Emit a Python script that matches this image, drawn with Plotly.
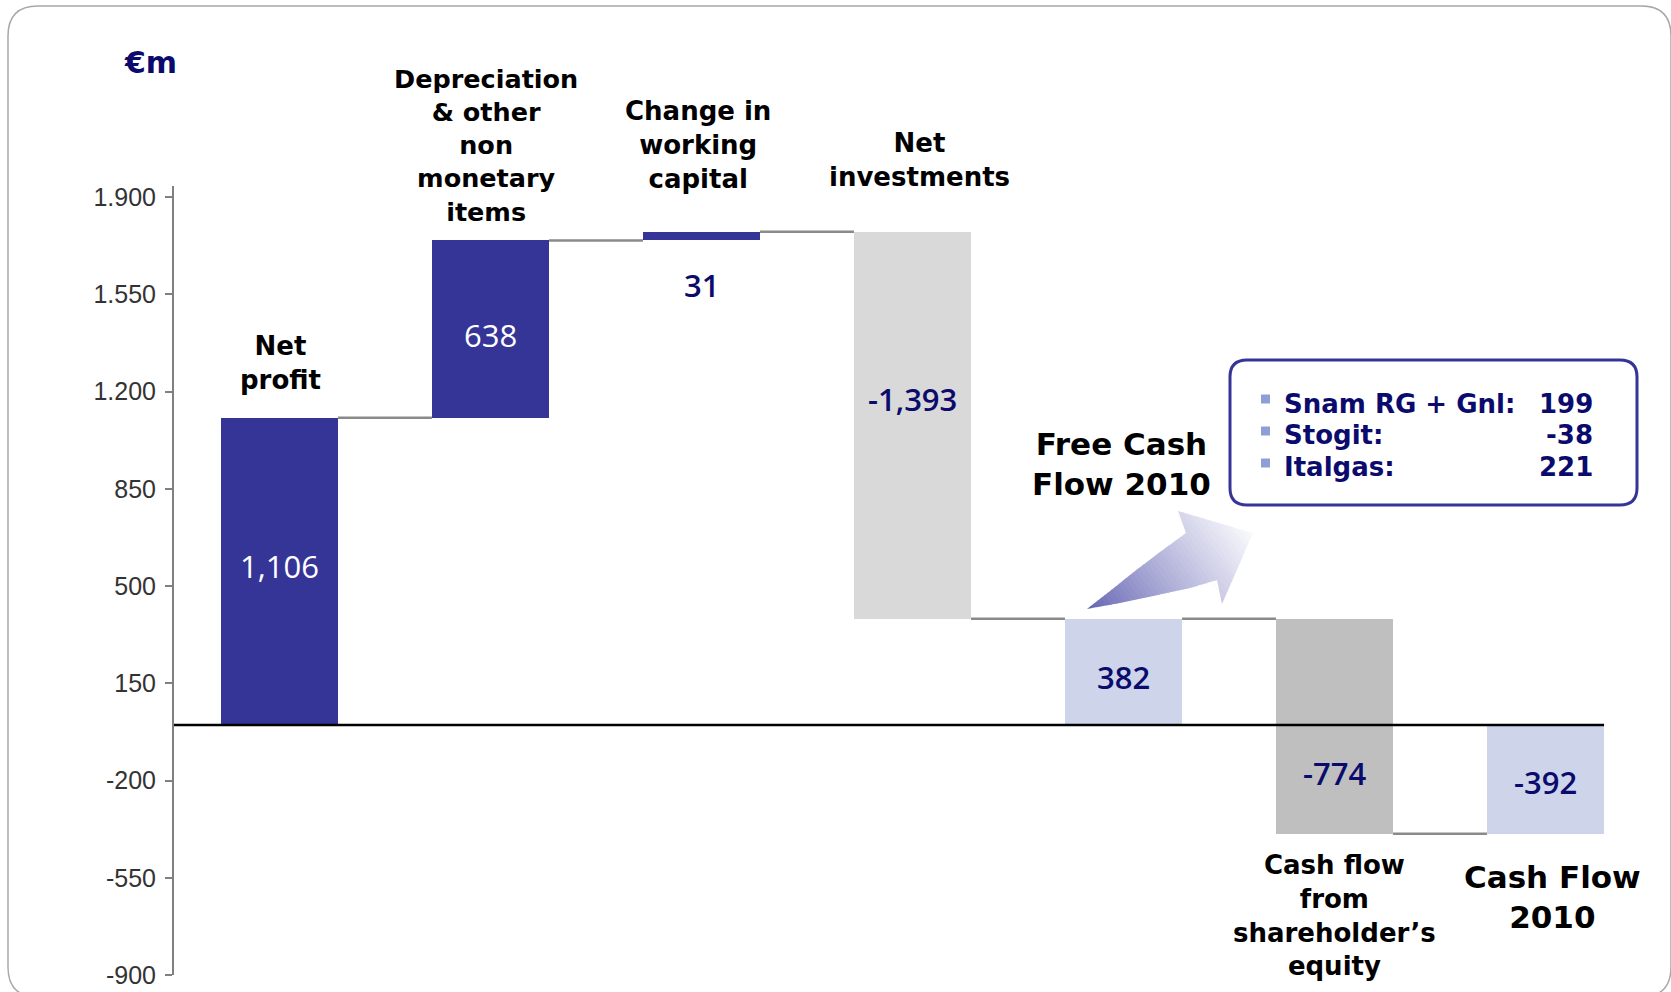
import plotly.graph_objects as go

# ---- data -------------------------------------------------------------
categories = [
    "Net<br>profit",
    "Depreciation<br>& other<br>non<br>monetary<br>items",
    "Change in<br>working<br>capital",
    "Net<br>investments",
    "Free Cash<br>Flow 2010",
    "Cash flow<br>from<br>shareholder’s<br>equity",
    "Cash Flow<br>2010",
]
values = [1106, 638, 31, -1393, 382, -774, -392]
measures = ["relative", "relative", "relative", "relative", "total", "relative", "total"]

y_ticks = [1900, 1550, 1200, 850, 500, 150, -200, -550, -900]
y_tick_labels = ["1.900", "1.550", "1.200", "850", "500", "150", "-200", "-550", "-900"]

segments = ["Snam RG + Gnl:", "Stogit:", "Italgas:"]
segment_values = [199, -38, 221]

# ---- styling ----------------------------------------------------------
NAVY = "#0B0B6E"
DARK = "#353597"
bar_colors = [DARK, DARK, DARK, "#D9D9D9", "#CED5EA", "#BFBFBF", "#CED5EA"]
value_colors = ["white", "white", NAVY, NAVY, NAVY, NAVY, NAVY]
value_weights = [400, 400, 600, 600, 600, 600, 600]
value_shift = [5, -6, -45, 26, -5, -47, -3]
BAR_W = 0.555

W, H = 1671, 992
ML, MR, MT, MB = 174, 20, 186, 17
PW, PH = W - ML - MR, H - MT - MB


def px(x):
    return (x - ML) / PW


def py(y):
    return (H - MB - y) / PH


# ---- waterfall geometry from the values ------------------------------
bases, heights = [], []
running = 0
for v, m in zip(values, measures):
    if m == "total":
        bases.append(0)
        heights.append(v)
        running = v
    else:
        bases.append(running)
        heights.append(v)
        running += v
ends = [b + h for b, h in zip(bases, heights)]
xs = list(range(len(values)))

fig = go.Figure()
fig.add_trace(go.Bar(
    x=xs, y=heights, base=bases, width=BAR_W,
    marker=dict(color=bar_colors, line=dict(width=0)),
    hoverinfo="skip", showlegend=False,
))

# connectors between consecutive bars
cx, cy = [], []
for i in range(len(values) - 1):
    cx += [i + BAR_W / 2, i + 1 - BAR_W / 2, None]
    cy += [ends[i], ends[i], None]
fig.add_trace(go.Scatter(
    x=cx, y=cy, mode="lines", line=dict(color="#8A8A8A", width=2.5),
    hoverinfo="skip", showlegend=False,
))

annotations = []
# value labels
for i, v in enumerate(values):
    if i == 2:
        y_val = bases[i]
    else:
        y_val = bases[i] + heights[i] / 2
    annotations.append(dict(
        x=i, y=y_val, xref="x", yref="y", text=f"{v:,}",
        showarrow=False, yshift=value_shift[i],
        font=dict(family="Open Sans", size=31, color=value_colors[i],
                  weight=value_weights[i]),
    ))

# category labels (pixel centre positions)
cat_pos = [(280, 363, 26), (486, 145, 25.5), (698, 145, 26), (920, 160, 26),
           (1121, 464, 31), (1334, 915, 26), (1552, 897, 31)]
for text, (lx, ly, fs) in zip(categories, cat_pos):
    annotations.append(dict(
        x=px(lx), y=py(ly), xref="paper", yref="paper", text=f"<b>{text}</b>",
        showarrow=False, xanchor="center", yanchor="middle", align="center",
        font=dict(family="DejaVu Sans", size=fs, color="black"),
    ))

# unit label
annotations.append(dict(
    x=px(150), y=py(62), xref="paper", yref="paper", text="<b>€m</b>",
    showarrow=False, xanchor="center", yanchor="middle",
    font=dict(family="DejaVu Sans", size=30, color=NAVY),
))

shapes = []


def rrect_path(x0, y0, x1, y1, r):
    pts = [
        ("M", [(x0 + r, y0)]), ("L", [(x1 - r, y0)]), ("Q", [(x1, y0), (x1, y0 + r)]),
        ("L", [(x1, y1 - r)]), ("Q", [(x1, y1), (x1 - r, y1)]),
        ("L", [(x0 + r, y1)]), ("Q", [(x0, y1), (x0, y1 - r)]),
        ("L", [(x0, y0 + r)]), ("Q", [(x0, y0), (x0 + r, y0)]),
    ]
    s = ""
    for cmd, ps in pts:
        s += cmd + " ".join(f"{px(a):.5f},{py(b):.5f}" for a, b in ps) + " "
    return s + "Z"


# outer rounded frame
shapes.append(dict(type="path", xref="paper", yref="paper",
                   path=rrect_path(8, 6, 1671, 997, 30),
                   line=dict(color="#A8A8A8", width=1.5), layer="below"))

# zero line
shapes.append(dict(type="line", xref="x", yref="y", x0=-0.5, x1=len(values) - 1 + BAR_W / 2,
                   y0=0, y1=0, line=dict(color="black", width=2.5), layer="above"))

# gradient arrow (clipped strips)
arrow = [(1087, 609), (1120, 603), (1153, 596), (1190, 588), (1217, 580),
         (1222, 604), (1253, 533), (1178, 511), (1186, 533),
         (1160, 552), (1135, 571), (1110, 591)]
dx, dy = 143.0, -104.0
norm = (dx * dx + dy * dy) ** 0.5
dx, dy = dx / norm, dy / norm


def proj(p):
    return p[0] * dx + p[1] * dy


def clip(poly, c, keep_ge):
    out = []
    n = len(poly)
    for i in range(n):
        cur, prev = poly[i], poly[i - 1]
        dc, dp = proj(cur) - c, proj(prev) - c
        if keep_ge:
            dc, dp = -dc, -dp
        cin, pin = dc <= 0, dp <= 0
        if cin != pin:
            t = dp / (dp - dc)
            out.append((prev[0] + t * (cur[0] - prev[0]), prev[1] + t * (cur[1] - prev[1])))
        if cin:
            out.append(cur)
    return out


smin = min(proj(p) for p in arrow)
smax = max(proj(p) for p in arrow)
N = 40
c0 = (96, 96, 178)
c1 = (250, 250, 253)
for k in range(N):
    a = smin + (smax - smin) * k / N
    b = smin + (smax - smin) * (k + 1) / N + 0.6
    poly = clip(clip(arrow, a, True), b, False)
    if len(poly) < 3:
        continue
    t = ((k + 0.5) / N) ** 0.85
    col = tuple(int(round(c0[j] + (c1[j] - c0[j]) * t)) for j in range(3))
    path = "M" + " L".join(f"{px(x):.5f},{py(y):.5f}" for x, y in poly) + " Z"
    shapes.append(dict(type="path", xref="paper", yref="paper", path=path,
                       fillcolor=f"rgb{col}", line=dict(width=0), layer="above"))

# segment box
shapes.append(dict(type="path", xref="paper", yref="paper",
                   path=rrect_path(1230, 360, 1637, 505, 17),
                   line=dict(color=DARK, width=3), fillcolor="white", layer="above"))
row_y = [404, 435, 467]
bullet_y = [399, 431, 463]
for name, val, ry, by in zip(segments, segment_values, row_y, bullet_y):
    shapes.append(dict(type="rect", xref="paper", yref="paper",
                       x0=px(1261), x1=px(1270), y0=py(by + 4.5), y1=py(by - 4.5),
                       fillcolor="#8E9ED6", line=dict(width=0), layer="above"))
    annotations.append(dict(
        x=px(1282), y=py(ry), xref="paper", yref="paper", text=f"<b>{name}</b>",
        showarrow=False, xanchor="left", yanchor="middle",
        font=dict(family="DejaVu Sans", size=26, color=NAVY),
    ))
    annotations.append(dict(
        x=px(1595), y=py(ry), xref="paper", yref="paper", text=f"<b>{val}</b>",
        showarrow=False, xanchor="right", yanchor="middle",
        font=dict(family="DejaVu Sans", size=26, color=NAVY),
    ))

fig.update_layout(
    width=W, height=H, autosize=False,
    margin=dict(l=ML, r=MR, t=MT, b=MB, pad=0, autoexpand=False),
    paper_bgcolor="white", plot_bgcolor="white",
    showlegend=False, bargap=0,
    xaxis=dict(range=[-0.5, 6.5], visible=False, fixedrange=True, automargin=False),
    yaxis=dict(
        range=[-900, 1940], tickvals=y_ticks, ticktext=y_tick_labels,
        showline=True, linecolor="#808080", linewidth=2,
        ticks="outside", ticklen=7, tickwidth=1.5, tickcolor="#808080",
        showgrid=False, zeroline=False, ticklabelstandoff=4,
        tickfont=dict(family="Liberation Sans", size=25, color="#333333"),
        fixedrange=True, automargin=False,
    ),
    shapes=shapes,
    annotations=annotations,
)

fig.write_html("out.html")
